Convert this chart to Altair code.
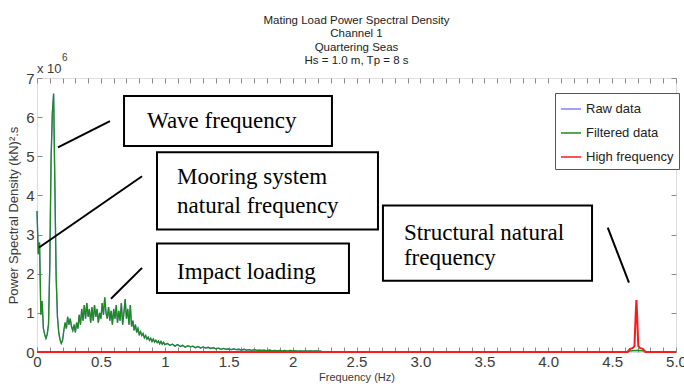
import altair as alt
import pandas as pd

# ---------------- fonts ----------------
SANS = "Liberation Sans"
SERIF = "Liberation Serif"

# ---------------- data (PSD in units of 1e6 (kN)^2.s) ----------------
filt_freq_low = [
    0.00, 0.01, 0.02, 0.03, 0.04, 0.05, 0.06, 0.07, 0.08, 0.09,
    0.10, 0.11, 0.12, 0.13, 0.14, 0.15, 0.16, 0.17, 0.18, 0.19,
    0.20, 0.21, 0.22, 0.23, 0.24, 0.25, 0.26, 0.27, 0.28, 0.29,
    0.30, 0.31, 0.32, 0.33, 0.34, 0.35, 0.36, 0.37, 0.38, 0.39,
    0.40, 0.41, 0.42, 0.43, 0.44, 0.45, 0.46, 0.47, 0.48, 0.49,
    0.50, 0.51, 0.52, 0.53, 0.54, 0.55, 0.56, 0.57, 0.58, 0.59,
    0.60, 0.61, 0.62, 0.63, 0.64, 0.65, 0.66, 0.67, 0.68, 0.69,
    0.70, 0.71, 0.72, 0.73, 0.74, 0.75, 0.76, 0.77, 0.78, 0.79,
    0.80, 0.81, 0.82, 0.83, 0.84, 0.85, 0.86, 0.87, 0.88, 0.89,
    0.90, 0.91, 0.92, 0.93, 0.94, 0.95, 0.96, 0.97, 0.98, 0.99,
]
filt_psd_low = [
    3.60, 2.50, 2.80, 0.95, 1.30, 0.60, 0.45, 0.35, 0.45, 0.70,
    2.20, 4.90, 6.10, 6.60, 4.20, 1.90, 0.90, 0.50, 0.32, 0.22,
    0.30, 0.55, 0.75, 0.60, 0.90, 0.70, 0.85, 0.65, 0.55, 0.70,
    0.50, 0.75, 0.60, 0.95, 0.70, 1.10, 0.80, 1.20, 0.85, 1.25,
    0.90, 1.10, 0.75, 1.15, 0.80, 1.20, 0.90, 1.10, 0.75, 1.00,
    0.85, 1.25, 0.95, 1.40, 1.00, 0.85, 1.15, 0.80, 1.05, 0.70,
    1.10, 0.85, 1.20, 0.75, 1.05, 0.80, 1.25, 0.70, 1.00, 1.35,
    0.85, 1.10, 0.70, 1.20, 0.65, 0.80, 0.55, 0.70, 0.50, 0.60,
    0.45, 0.52, 0.42, 0.47, 0.36, 0.42, 0.33, 0.38, 0.30, 0.35,
    0.27, 0.33, 0.25, 0.30, 0.24, 0.28, 0.21, 0.27, 0.20, 0.25,
]
filt_freq_high = [
    1.00, 1.02, 1.04, 1.06, 1.08, 1.10, 1.12, 1.14, 1.16, 1.18,
    1.20, 1.22, 1.24, 1.26, 1.28, 1.30, 1.32, 1.34, 1.36, 1.38,
    1.40, 1.42, 1.44, 1.46, 1.48, 1.50, 1.52, 1.54, 1.56, 1.58,
    1.60, 1.62, 1.64, 1.66, 1.68, 1.70, 1.72, 1.74, 1.76, 1.78,
    1.80, 1.82, 1.84, 1.86, 1.88, 1.90, 1.92, 1.94, 1.96, 1.98,
    2.00, 2.02, 2.04, 2.06, 2.08, 2.10, 2.12, 2.14, 2.16, 2.18,
    2.20, 2.22, 2.24, 4.62, 4.64, 4.70, 4.75, 4.77, 5.00,
]
filt_psd_high = [
    0.19, 0.22, 0.17, 0.20, 0.15, 0.19, 0.14, 0.17, 0.12, 0.16,
    0.13, 0.15, 0.11, 0.14, 0.10, 0.13, 0.10, 0.12, 0.09, 0.11,
    0.08, 0.10, 0.07, 0.09, 0.07, 0.08, 0.06, 0.08, 0.06, 0.07,
    0.05, 0.07, 0.05, 0.06, 0.04, 0.06, 0.04, 0.05, 0.04, 0.05,
    0.03, 0.05, 0.03, 0.04, 0.03, 0.04, 0.03, 0.04, 0.02, 0.04,
    0.03, 0.035, 0.02, 0.03, 0.02, 0.03, 0.02, 0.025, 0.02, 0.025,
    0.02, 0.02, 0.00, 0.00, 0.03, 0.04, 0.03, 0.00, 0.00,
]
hf_freq = [0.00, 4.62, 4.64, 4.66, 4.675, 4.685, 4.69, 4.695, 4.705, 4.72, 4.74, 4.76, 5.00]
hf_psd = [0.00, 0.00, 0.08, 0.10, 0.15, 1.00, 1.33, 1.00, 0.15, 0.10, 0.08, 0.00, 0.00]

series_names = ["Raw data", "Filtered data", "High frequency"]
series_colors = ["#8080ff", "#1d8a1d", "#ff1a1a"]

# axis ticks
x_tick_values = [round(i * 0.1, 1) for i in range(51)]
x_label_values = [0.0, 0.5, 1.0, 1.5, 2.0, 2.5, 3.0, 3.5, 4.0, 4.5, 5.0]
x_label_texts = ["0", "0.5", "1", "1.5", "2", "2.5", "3.0", "3.5", "4.0", "4.5", "5.0"]
y_tick_values = [0, 1, 2, 3, 4, 5, 6, 7]

title_lines = ["Mating Load Power Spectral Density", "Channel 1", "Quartering Seas", "Hs = 1.0 m, Tp = 8 s"]

# annotation boxes (data units)
box_f0 = [0.681, 0.939, 0.939, 2.707]
box_f1 = [2.308, 2.668, 2.441, 4.343]
box_v0 = [5.26, 3.13, 1.51, 1.82]
box_v1 = [6.54, 5.10, 2.77, 3.74]
note_texts = ["Wave frequency", "Mooring system", "natural frequency", "Impact loading", "Structural natural", "frequency"]
note_f = [0.861, 1.096, 1.096, 1.096, 2.871, 2.871]
note_v = [5.89, 4.46, 3.72, 2.05, 3.05, 2.41]
lead_f0 = [0.571, 0.822, 0.822, 4.466]
lead_v0 = [5.90, 4.49, 2.15, 3.18]
lead_f1 = [0.164, 0.016, 0.579, 4.632]
lead_v1 = [5.23, 2.67, 1.36, 1.77]

# ---------------- tables ----------------
filt_f = filt_freq_low + filt_freq_high
filt_v = filt_psd_low + filt_psd_high
raw_df = pd.DataFrame({"f": filt_f, "v": filt_v, "s": series_names[0]})
filt_df = pd.DataFrame({"f": filt_f, "v": filt_v, "s": series_names[1]})
hf_df = pd.DataFrame({"f": hf_freq, "v": hf_psd, "s": series_names[2]})
box_df = pd.DataFrame({"f0": box_f0, "f1": box_f1, "v0": box_v0, "v1": box_v1})
note_df = pd.DataFrame({"f": note_f, "v": note_v, "t": note_texts})
lead_df = pd.DataFrame({"f0": lead_f0, "v0": lead_v0, "f1": lead_f1, "v1": lead_v1})
exp_df = pd.DataFrame({"f": [0.0, 0.196], "v": [7.24, 7.52], "t": ["x 10", "6"], "sz": [13, 10]})

x_scale = alt.Scale(domain=[0, 5], nice=False, zero=False)
y_scale = alt.Scale(domain=[0, 7], nice=False, zero=False)
color_scale = alt.Scale(domain=series_names, range=series_colors)

label_expr = ""
for val, txt in zip(x_label_values, x_label_texts):
    label_expr += f"abs(datum.value - {val}) < 0.001 ? '{txt}' : "
label_expr += "''"

TICK = "#8a8a8a"
LAB = "#3a3a3a"

axis_bottom = alt.Axis(
    orient="bottom", values=x_tick_values, labelExpr=label_expr, offset=-5, tickSize=5,
    domain=False, grid=False, labelPadding=2, labelFont=SANS, labelFontSize=15,
    labelColor=LAB, tickColor=TICK, labelFlush=False, labelOverlap=False,
    title="Frequency (Hz)", titleFont=SANS, titleFontSize=11, titleFontWeight="normal",
    titleColor=LAB, titlePadding=2,
)
axis_left = alt.Axis(
    orient="left", values=y_tick_values, offset=-5, tickSize=5, domain=False, grid=False,
    labelPadding=3, labelFont=SANS, labelFontSize=15, labelColor=LAB, tickColor=TICK,
    labelFlush=False, title="Power Spectral Density (kN)\u00b2.s", titleFont=SANS,
    titleFontSize=13, titleFontWeight="normal", titleColor=LAB, titlePadding=5,
)
axis_top = alt.Axis(
    orient="top", values=x_tick_values, offset=-5, tickSize=5, domain=False, grid=False,
    labels=False, tickColor=TICK, title="",
)
axis_right = alt.Axis(
    orient="right", values=y_tick_values, offset=-5, tickSize=5, domain=False, grid=False,
    labels=False, tickColor=TICK, title="",
)

legend = alt.Legend(
    title=None, orient="none", legendX=518, legendY=15, symbolType="stroke",
    symbolSize=400, symbolStrokeWidth=1.5, labelFont=SANS, labelFontSize=13,
    labelColor="#222", strokeColor="#555", fillColor="white", padding=5,
    rowPadding=6, labelOffset=4,
)

raw_layer = alt.Chart(raw_df).mark_line(strokeWidth=1.3).encode(
    x=alt.X("f:Q", scale=x_scale, axis=axis_top),
    y=alt.Y("v:Q", scale=y_scale, axis=axis_right),
    color=alt.Color("s:N", scale=color_scale, legend=legend),
)
filt_layer = alt.Chart(filt_df).mark_line(strokeWidth=1.3).encode(
    x=alt.X("f:Q", scale=x_scale, axis=axis_bottom),
    y=alt.Y("v:Q", scale=y_scale, axis=axis_left),
    color=alt.Color("s:N", scale=color_scale, legend=legend),
)
hf_layer = alt.Chart(hf_df).mark_line(strokeWidth=2).encode(
    x=alt.X("f:Q", scale=x_scale, axis=None),
    y=alt.Y("v:Q", scale=y_scale, axis=None),
    color=alt.Color("s:N", scale=color_scale, legend=legend),
)
lead_layer = alt.Chart(lead_df).mark_rule(color="black", strokeWidth=2).encode(
    x=alt.X("f0:Q", scale=x_scale, axis=None), x2="f1:Q",
    y=alt.Y("v0:Q", scale=y_scale, axis=None), y2="v1:Q",
)
box_layer = alt.Chart(box_df).mark_rect(fill="white", stroke="black", strokeWidth=2).encode(
    x=alt.X("f0:Q", scale=x_scale, axis=None), x2="f1:Q",
    y=alt.Y("v0:Q", scale=y_scale, axis=None), y2="v1:Q",
)
note_layer = alt.Chart(note_df).mark_text(
    font=SERIF, fontSize=23, align="left", baseline="middle", color="black"
).encode(
    x=alt.X("f:Q", scale=x_scale, axis=None),
    y=alt.Y("v:Q", scale=y_scale, axis=None),
    text="t:N",
)
exp_layer = alt.Chart(exp_df).mark_text(
    font=SANS, align="left", baseline="middle", color=LAB
).encode(
    x=alt.X("f:Q", scale=x_scale, axis=None),
    y=alt.Y("v:Q", scale=y_scale, axis=None),
    text="t:N",
    size=alt.Size("sz:Q", scale=None, legend=None),
)

chart = alt.layer(
    raw_layer, filt_layer, hf_layer, lead_layer, box_layer, note_layer, exp_layer
).resolve_axis(x="independent", y="independent").properties(
    width=639,
    height=274,
    autosize=alt.AutoSizeParams(type="none"),
    padding={"left": 37, "top": 78, "right": 8, "bottom": 35},
    title=alt.TitleParams(
        text=title_lines, font=SANS, fontSize=11.5, fontWeight="normal", color="#222",
        lineHeight=13.5, anchor="middle", offset=-14,
    ),
).configure_view(stroke="#8a8a8a", strokeWidth=1).configure(background="white")

chart.save("out.html", embed_options={"renderer": "svg", "actions": False})
